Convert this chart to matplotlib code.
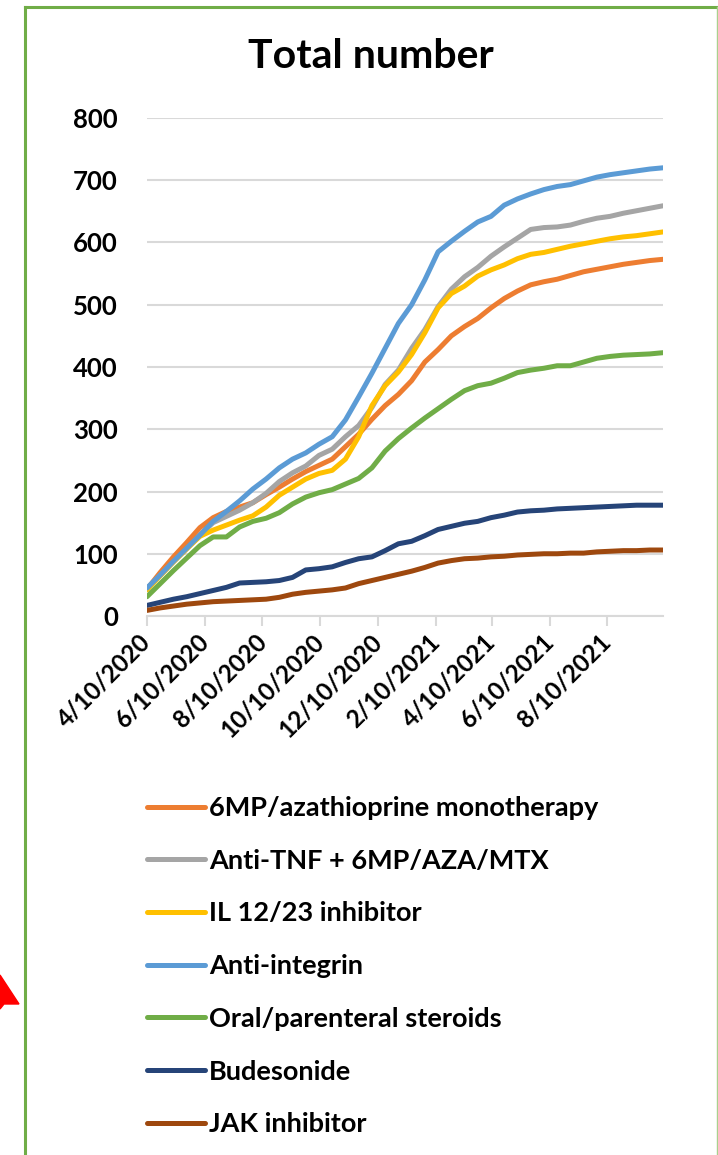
import matplotlib
matplotlib.use("Agg")
import matplotlib.pyplot as plt
from matplotlib.lines import Line2D
from matplotlib.patches import Polygon
import numpy as np
import pandas as pd

plt.rcParams["font.family"] = ["Lato", "DejaVu Sans"]
plt.rcParams["font.weight"] = "bold"

# biweekly observation dates, 4/10/2020 .. 10/8/2021
dates = pd.date_range("2020-04-10", periods=40, freq="14D")

series_names = [
    "6MP/azathioprine monotherapy",
    "Anti-TNF + 6MP/AZA/MTX",
    "IL 12/23 inhibitor",
    "Anti-integrin",
    "Oral/parenteral steroids",
    "Budesonide",
    "JAK inhibitor",
]
series_colors = ["#ED7D31", "#A5A5A5", "#FFC000", "#5B9BD5", "#70AD47", "#264478", "#9E480E"]

thiopurine = [43, 70, 95, 118, 142, 158, 168, 175, 182, 195, 207, 220, 232, 242, 252, 272,
              292, 316, 338, 356, 378, 408, 428, 450, 465, 478, 495, 510, 522, 532, 537, 541,
              547, 553, 557, 561, 565, 568, 571, 573]
anti_tnf_combo = [43, 65, 87, 108, 130, 150, 160, 170, 182, 197, 216, 230, 241, 258, 268, 288,
                  306, 335, 372, 395, 430, 460, 497, 525, 545, 560, 578, 593, 607, 621, 624, 625,
                  628, 634, 639, 642, 647, 651, 655, 659]
il12_23 = [42, 65, 87, 108, 128, 138, 146, 154, 161, 175, 194, 207, 220, 229, 234, 252,
           288, 338, 370, 392, 420, 455, 495, 518, 530, 546, 556, 564, 574, 581, 584, 589,
           594, 598, 602, 606, 609, 611, 614, 617]
anti_integrin = [45, 66, 88, 109, 130, 152, 168, 185, 204, 220, 238, 252, 262, 276, 288, 315,
                 352, 390, 430, 470, 500, 540, 585, 602, 618, 633, 642, 660, 670, 678, 685, 690,
                 693, 699, 705, 709, 712, 715, 718, 720]
steroids = [31, 52, 73, 93, 113, 127, 127, 143, 152, 157, 166, 180, 191, 198, 203, 212,
            221, 238, 265, 285, 302, 318, 333, 348, 362, 370, 374, 382, 391, 395, 398, 402,
            402, 408, 414, 417, 419, 420, 421, 423]
budesonide = [17, 22, 27, 31, 36, 41, 46, 53, 54, 55, 57, 62, 74, 76, 79, 86,
              92, 95, 105, 116, 120, 129, 139, 144, 149, 152, 158, 162, 167, 169, 170, 172,
              173, 174, 175, 176, 177, 178, 178, 178]
jak = [9, 13, 16, 19, 21, 23, 24, 25, 26, 27, 30, 35, 38, 40, 42, 45,
       52, 57, 62, 67, 72, 78, 85, 89, 92, 93, 95, 96, 98, 99, 100, 100,
       101, 101, 103, 104, 105, 105, 106, 106]

all_series = [thiopurine, anti_tnf_combo, il12_23, anti_integrin, steroids, budesonide, jak]

tick_labels = ["4/10/2020", "6/10/2020", "8/10/2020", "10/10/2020", "12/10/2020",
               "2/10/2021", "4/10/2021", "6/10/2021", "8/10/2021"]
y_ticks = [0, 100, 200, 300, 400, 500, 600, 700, 800]

W, H = 718, 1155
fig = plt.figure(figsize=(W / 100, H / 100), dpi=100)
ax = fig.add_axes([147 / W, 1 - 616 / H, (663 - 147) / W, (616 - 118) / H])

for vals, name, col in zip(all_series, series_names, series_colors):
    ax.plot(dates, vals, color=col, lw=3.6, label=name, solid_capstyle="round",
            solid_joinstyle="round")

ax.set_xlim(dates[0], dates[-1])
ax.set_ylim(0, 800)
ax.set_yticks(y_ticks)
ax.yaxis.grid(True, color="#D9D9D9", lw=1.5)
ax.set_axisbelow(True)
for s in ["top", "right", "left"]:
    ax.spines[s].set_visible(False)
ax.spines["bottom"].set_color("#D9D9D9")
ax.spines["bottom"].set_linewidth(1.5)
ax.spines["bottom"].set_zorder(0.5)

tick_pos = pd.to_datetime(tick_labels, format="%m/%d/%Y")
ax.set_xticks(tick_pos)
ax.set_xticklabels(tick_labels, rotation=45, ha="right", va="center",
                   rotation_mode="anchor", fontsize=17.5, fontweight="bold")
ax.tick_params(axis="x", length=7, width=1.5, color="#D9D9D9", pad=9)
ax.tick_params(axis="y", length=0, pad=21, labelsize=18.5)

fig.text(371 / W, 1 - 57 / H, "Total number", ha="center", va="center",
         fontsize=29.5, fontweight="bold")

fig.legend(loc="upper left", bbox_to_anchor=(147 / W, 1 - 796 / H), frameon=False,
           prop={"family": ["Lato"], "weight": "bold", "size": 19.5},
           handlelength=2.14, handletextpad=0.15, labelspacing=1.06,
           borderpad=0, borderaxespad=0)

# chart frame
green = "#70AD47"
fig.add_artist(Line2D([25 / W, 25 / W], [0, 1 - 7 / H], color=green, lw=2.2,
                      transform=fig.transFigure))
fig.add_artist(Line2D([25 / W, 1], [1 - 7 / H, 1 - 7 / H], color=green, lw=2.2,
                      transform=fig.transFigure))
fig.add_artist(Line2D([716.5 / W, 716.5 / W], [0, 1 - 7 / H], color="#A9D18E", lw=1,
                      transform=fig.transFigure))

# red arrow tip at the left edge
tri = np.array([[0, 975], [19, 1004], [4, 1004], [0, 1009]], dtype=float)
tri[:, 0] /= W
tri[:, 1] = 1 - tri[:, 1] / H
fig.add_artist(Polygon(tri, closed=True, color="#FF0000", transform=fig.transFigure))

fig.savefig("out.png", dpi=100)
